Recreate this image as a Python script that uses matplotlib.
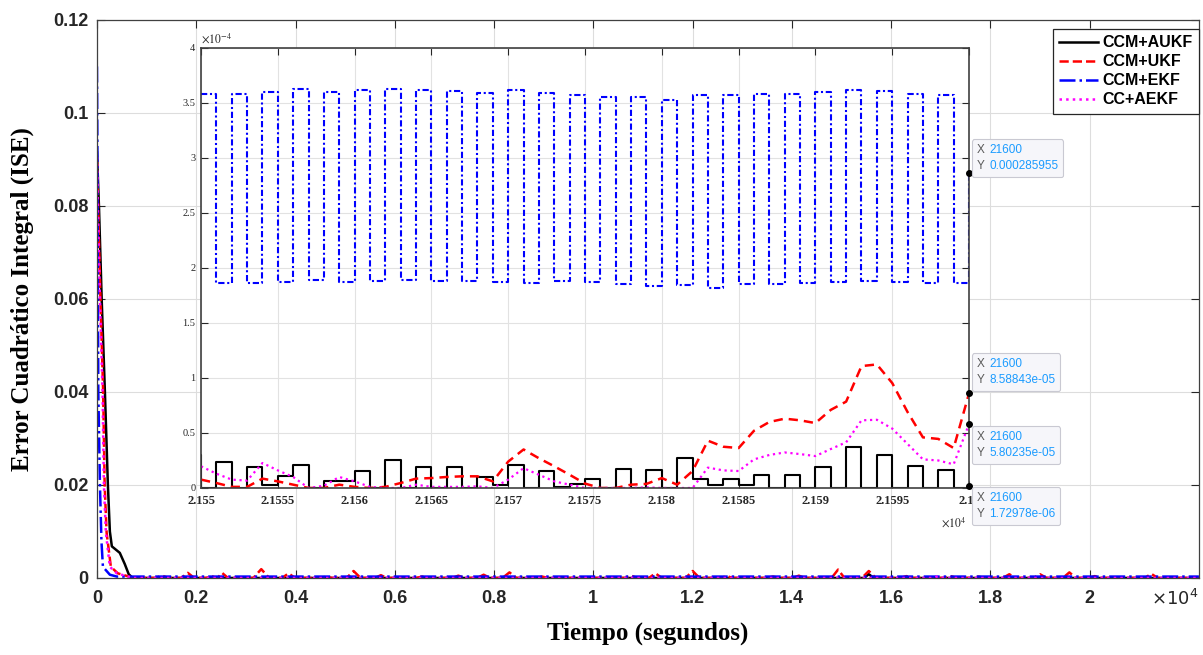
import numpy as np
import matplotlib
matplotlib.use('Agg')
import matplotlib.pyplot as plt
from matplotlib.ticker import FuncFormatter
from matplotlib.offsetbox import TextArea, HPacker, AnnotationBbox

plt.rcParams['font.family'] = ['Liberation Sans', 'DejaVu Sans']

labels = ['CCM+AUKF', 'CCM+UKF', 'CCM+EKF', 'CC+AEKF']

# main plot: time in s, ISE
black_t = [0, 40, 95, 160, 220, 260, 300, 460, 560, 640, 720,
           15450, 15550, 15650, 22200]
black_v = [0.0915, 0.080, 0.060, 0.040, 0.020, 0.010, 0.0068, 0.0054, 0.003, 0.0008, 0.0,
           0.0, 0.0008, 0.0, 0.0]

red_t = [0, 30, 70, 125, 155, 195, 280, 420, 740,
         1180, 1310, 1440, 1700, 1830, 1960, 2200, 2310, 2400, 2430, 2520, 2640,
         3150, 3310, 3470, 3730, 3860, 3990, 4500, 4620, 4740, 5030, 5170, 5310,
         5600, 5720, 5840, 6430, 6550, 6670, 7160, 7280, 7400, 7660, 7790, 7920,
         8170, 8310, 8450, 8850, 8970, 9090, 10640, 10760, 10880, 11120, 11250, 11380,
         11860, 12000, 12140, 12570, 12690, 12810, 13500, 13620, 13740, 14020, 14140, 14260,
         14800, 14930, 15060, 15410, 15550, 15690, 16190, 16310, 16430, 17080, 17200, 17320,
         17640, 17760, 17880, 18250, 18380, 18510, 18870, 19000, 19130, 19460, 19590, 19720,
         19980, 20100, 20220, 21110, 21240, 21370, 22200]
red_v = [0.090, 0.077, 0.060, 0.040, 0.020, 0.0097, 0.0024, 0.001, 0.0,
         0.0, 0.0005, 0.0, 0.0, 0.0011, 0.0, 0.0, 0.0004, 0.0, 0.0, 0.0011, 0.0,
         0.0, 0.0019, 0.0, 0.0, 0.0010, 0.0, 0.0, 0.0003, 0.0, 0.0, 0.0015, 0.0,
         0.0, 0.0006, 0.0, 0.0, 0.0003, 0.0, 0.0, 0.0005, 0.0, 0.0, 0.0007, 0.0,
         0.0, 0.0012, 0.0, 0.0, 0.0003, 0.0, 0.0, 0.0005, 0.0, 0.0, 0.0010, 0.0,
         0.0, 0.0015, 0.0, 0.0, 0.0004, 0.0, 0.0, 0.0003, 0.0, 0.0, 0.0005, 0.0,
         0.0, 0.0018, 0.0, 0.0, 0.0015, 0.0, 0.0, 0.0004, 0.0, 0.0, 0.0004, 0.0,
         0.0, 0.0003, 0.0, 0.0, 0.0008, 0.0, 0.0, 0.0008, 0.0, 0.0, 0.0012, 0.0,
         0.0, 0.0004, 0.0, 0.0, 0.0009, 0.0, 0.0]

blue_t = [0, 10, 20, 27, 60, 90, 120, 260, 400, 22200]
blue_v = [0.110, 0.090, 0.060, 0.040, 0.020, 0.008, 0.0024, 0.0007, 0.0003, 0.0003]

mag_t = [0, 30, 60, 113, 140, 180, 260, 400, 720, 16850, 16950, 17050, 22200]
mag_v = [0.0905, 0.075, 0.060, 0.040, 0.020, 0.0097, 0.0024, 0.001, 0.0, 0.0, 0.0004, 0.0, 0.0]

# zoom window, values in 1e-4
t_zoom = np.arange(21550, 21601)
black_zoom_t = np.arange(21549, 21601)
black_zoom = [0.30,
              0.0, 0.233, 0.0, 0.19, 0.03, 0.106, 0.206, 0.0, 0.067, 0.067,
              0.15, 0.0, 0.25, 0.0, 0.19, 0.0, 0.19, 0.0, 0.10, 0.03,
              0.21, 0.0, 0.15, 0.01, 0.04, 0.086, 0.0, 0.175, 0.0, 0.16,
              0.0, 0.277, 0.086, 0.025, 0.086, 0.025, 0.117, 0.0, 0.117, 0.0,
              0.194, 0.0, 0.375, 0.0, 0.30, 0.0, 0.20, 0.0, 0.16, 0.0,
              0.0172978]
red_zoom = [0.076, 0.045, 0.01, 0.01, 0.085, 0.06, 0.03, 0.0, 0.0, 0.03,
            0.01, 0.0, 0.01, 0.045, 0.085, 0.09, 0.10, 0.106, 0.106, 0.06,
            0.24, 0.35, 0.27, 0.197, 0.12, 0.04, 0.0, 0.0, 0.03, 0.037,
            0.09, 0.03, 0.154, 0.43, 0.375, 0.363, 0.52, 0.60, 0.63, 0.615,
            0.59, 0.71, 0.785, 1.108, 1.123, 0.954, 0.69, 0.46, 0.446, 0.363,
            0.858843]
blue_hi = [3.585, 3.585, 3.60, 3.624, 3.60, 3.615, 3.63, 3.615, 3.61, 3.594,
           3.615, 3.594, 3.57, 3.555, 3.555, 3.53, 3.576, 3.57, 3.58, 3.58,
           3.60, 3.615, 3.606, 3.585, 3.57]
blue_lo = [1.864, 1.864, 1.873, 1.888, 1.873, 1.879, 1.888, 1.879, 1.879, 1.873,
           1.867, 1.879, 1.873, 1.852, 1.836, 1.842, 1.821, 1.858, 1.858, 1.864,
           1.873, 1.879, 1.873, 1.864, 1.864]
blue_end = 2.85955
mag_zoom = [0.197, 0.13, 0.076, 0.067, 0.227, 0.16, 0.10, 0.0, 0.02, 0.10,
            0.06, 0.01, 0.0, 0.0, 0.03, 0.01, 0.01, 0.01, 0.015, 0.0,
            0.076, 0.18, 0.12, 0.06, 0.03, 0.0, 0.0, 0.0, 0.0, 0.006,
            0.0, 0.0, 0.0, 0.185, 0.16, 0.154, 0.26, 0.30, 0.323, 0.308,
            0.29, 0.354, 0.415, 0.615, 0.62, 0.54, 0.40, 0.26, 0.25, 0.215,
            0.580235]

blue_zoom = []
for hi, lo in zip(blue_hi, blue_lo):
    blue_zoom += [hi, lo]
blue_zoom.append(blue_end)

fig = plt.figure(figsize=(12.03, 6.55), dpi=100)
ax = fig.add_axes([0.0806, 0.1176, 0.9160, 0.8519])

ax.plot(black_t, black_v, color='k', lw=1.8, label=labels[0])
ax.plot(red_t, red_v, color='r', lw=1.8, ls='--', label=labels[1])
ax.plot(blue_t, blue_v, color='b', lw=1.8, ls='-.', label=labels[2])
ax.plot(mag_t, mag_v, color='#ff00ff', lw=1.8, ls=':', label=labels[3])

ax.set_xlim(0, 22200)
ax.set_ylim(0, 0.12)
ax.set_xticks(np.arange(0, 20001, 2000))
ax.set_yticks(np.arange(0, 0.1201, 0.02))
ax.xaxis.set_major_formatter(FuncFormatter(lambda v, p: f'{v / 1e4:g}'))
ax.yaxis.set_major_formatter(FuncFormatter(lambda v, p: f'{round(v, 4):g}'))
ax.tick_params(direction='in', length=6, width=0.8, top=True, right=True,
               labelsize=13, colors='#262626')
ax.tick_params(axis='x', pad=9)
ax.tick_params(axis='y', pad=6)
plt.setp(ax.get_xticklabels() + ax.get_yticklabels(), fontweight='bold')
ax.grid(True, color='#dddddd', lw=0.8)
ax.set_axisbelow(True)
for s in ax.spines.values():
    s.set_color('#404040')
    s.set_linewidth(0.9)

ax.set_xlabel('Tiempo (segundos)', fontfamily='Liberation Serif', fontweight='bold',
              fontsize=18, labelpad=10)
ax.set_ylabel('Error Cuadrático Integral (ISE)', fontfamily='Liberation Serif',
              fontweight='bold', fontsize=18, labelpad=14)
ax.text(1.0, -0.02, r'$\times10^{4}$', transform=ax.transAxes, ha='right', va='top',
        fontsize=13, color='#262626', math_fontfamily='dejavusans')

leg = ax.legend(loc='upper left', bbox_to_anchor=(0.8753, 0.9557),
                bbox_transform=fig.transFigure, borderaxespad=0, fancybox=False,
                framealpha=1, edgecolor='#262626', handlelength=2.4,
                handletextpad=0.3, labelspacing=0.25, borderpad=0.4,
                prop={'family': 'Liberation Sans', 'weight': 'bold', 'size': 11.5})
leg.get_frame().set_linewidth(0.9)

# zoom inset
axin = fig.add_axes([0.1671, 0.2550, 0.6384, 0.6718])
axin.step(black_zoom_t, black_zoom, where='post', color='k', lw=1.5)
axin.plot(t_zoom, red_zoom, color='r', ls=(0, (3.7, 2.4)), lw=1.8)
axin.step(t_zoom, blue_zoom, where='post', color='b', ls=(0, (3, 1.3, 1, 1.3)), lw=1.5)
axin.plot(t_zoom, mag_zoom, color='#ff00ff', ls=':', lw=1.6)

axin.set_xlim(21550, 21600)
axin.set_ylim(0, 4)
axin.set_xticks(np.arange(21550, 21601, 5))
axin.set_yticks(np.arange(0, 4.01, 0.5))
axin.xaxis.set_major_formatter(FuncFormatter(lambda v, p: f'{v / 1e4:g}'))
axin.yaxis.set_major_formatter(FuncFormatter(lambda v, p: f'{v:g}'))
axin.tick_params(direction='in', length=5, width=0.8, top=True, right=True,
                 colors='#262626')
axin.tick_params(axis='x', pad=5, labelsize=9)
axin.tick_params(axis='y', pad=4, labelsize=7.5)
plt.setp(axin.get_xticklabels(), fontfamily='Liberation Serif', fontweight='bold')
plt.setp(axin.get_yticklabels(), fontfamily='Liberation Serif')
axin.grid(True, color='#e2e2e2', lw=0.8)
axin.set_axisbelow(True)
for s in axin.spines.values():
    s.set_color('#404040')
    s.set_linewidth(1.2)
axin.text(0.0, 1.006, r'$\times10^{-4}$', transform=axin.transAxes, ha='left',
          va='bottom', fontsize=8.5, color='#262626', math_fontfamily='stix')
axin.text(0.997, -0.062, r'$\times10^{4}$', transform=axin.transAxes, ha='right',
          va='top', fontsize=8.5, color='#262626', math_fontfamily='stix')

# data tips at t = 21600
tip_vals = [blue_end, red_zoom[-1], mag_zoom[-1], black_zoom[-1]]
tip_off = [(8, 1, 0), (8, 7, 0), (8, -7, 1), (8, -6, 1)]
axin.plot([t_zoom[-1]] * 4, tip_vals, 'o', color='k', ms=4, clip_on=False, zorder=6)
for v, (dx, dy, top) in zip(tip_vals, tip_off):
    tp = dict(fontsize=8.5, linespacing=1.45)
    keys = TextArea('X\nY', textprops=dict(color='#5a5a5a', **tp))
    vals = TextArea(f'{t_zoom[-1]}\n{v * 1e-4:g}', textprops=dict(color='#1a9bff', **tp))
    box = HPacker(children=[keys, vals], sep=3, pad=0, align='baseline')
    ab = AnnotationBbox(box, (t_zoom[-1], v), xybox=(dx, dy), xycoords='data',
                        boxcoords='offset pixels', box_alignment=(0, top),
                        fontsize=8.5, annotation_clip=False, zorder=7,
                        bboxprops=dict(boxstyle='round,pad=0.42,rounding_size=0.2',
                                       fc='#f6f6fa', ec='#c9c9d2', lw=0.8))
    axin.add_artist(ab)

fig.savefig('out.png', dpi=100)
